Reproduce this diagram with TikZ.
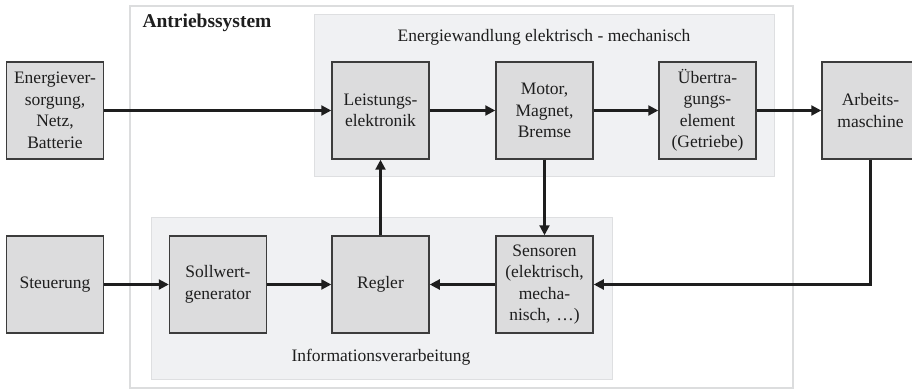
\documentclass[tikz,border=0pt]{standalone}
\usepackage{fontspec}
\setmainfont{Liberation Serif}
\usepackage{xcolor}
\usetikzlibrary{arrows.meta}
\usetikzlibrary{calc}

\definecolor{framegray}{RGB}{220,221,222}
\definecolor{groupfill}{RGB}{240,241,243}
\definecolor{groupline}{RGB}{222,223,225}
\definecolor{boxfill}{RGB}{220,220,221}
\definecolor{boxline}{RGB}{60,60,60}
\definecolor{inkblack}{RGB}{30,30,30}

\tikzset{
    block/.style={draw=boxline,fill=boxfill,line width=1.5pt,minimum width=97pt,
        minimum height=97pt,inner sep=0pt,text width=95pt,align=center,
        text=inkblack,font=\fontsize{17.5}{21.5}\selectfont},
    arr/.style={inkblack,line width=2.2pt,-{Triangle[length=10pt,width=10pt]}},
    groupbox/.style={draw=groupline,fill=groupfill,line width=1pt},
    grouplabel/.style={text=inkblack,font=\fontsize{17.5}{21}\selectfont}
}

\begin{document}
\begin{tikzpicture}[x=1pt,y=-1pt]
    \clip (0,0) rectangle (912,390);
    \fill[white] (0,0) rectangle (912,390);

    % outer frame and groups
    \draw[framegray,line width=2.5pt,fill=white] (130,6) rectangle (793,388);
    \node[anchor=west,text=inkblack,font=\fontsize{19.5}{23}\selectfont\bfseries]
        (titel) at (139,23) {Antriebssystem};

    \draw[groupbox] (314,15) rectangle (774,177);
    \node[grouplabel] (wandlung) at (544,37) {Energiewandlung elektrisch - mechanisch};

    \draw[groupbox] (151,217) rectangle (612,379);
    \node[grouplabel] (info) at (381,357) {Informationsverarbeitung};

    % blocks
    \node[block] (energie) at (55,110.5) {Energiever-\\sorgung,\\Netz,\\Batterie};
    \node[block] (leistung) at (380.5,110.5) {Leistungs-\\elektronik};
    \node[block] (motor) at (544.5,110.5) {Motor,\\Magnet,\\Bremse};
    \node[block] (uebertr) at (707.5,110.5) {Übertra-\\gungs-\\element\\(Getriebe)};
    \node[block] (arbeits) at (870.5,110.5) {Arbeits-\\maschine};

    \node[block] (steuerung) at (55,284.5) {Steuerung};
    \node[block] (sollwert) at (218,284.5) {Sollwert-\\generator};
    \node[block] (regler) at (380.5,284.5) {Regler};
    \node[block] (sensoren) at (544.5,284.5) {Sensoren\\(elektrisch,\\mecha-\\nisch, \ldots)};

    % connections
    \draw[arr] (energie) -- (leistung);
    \draw[arr] (leistung) -- (motor);
    \draw[arr] (motor) -- (uebertr);
    \draw[arr] (uebertr) -- (arbeits);

    \draw[arr] (steuerung) -- (sollwert);
    \draw[arr] (sollwert) -- (regler);
    \draw[arr] (sensoren) -- (regler);
    \draw[arr] (regler) -- (leistung);
    \draw[arr] (motor) -- (sensoren);
    \draw[arr] (arbeits.south) |- (sensoren.east);
\end{tikzpicture}
\end{document}
